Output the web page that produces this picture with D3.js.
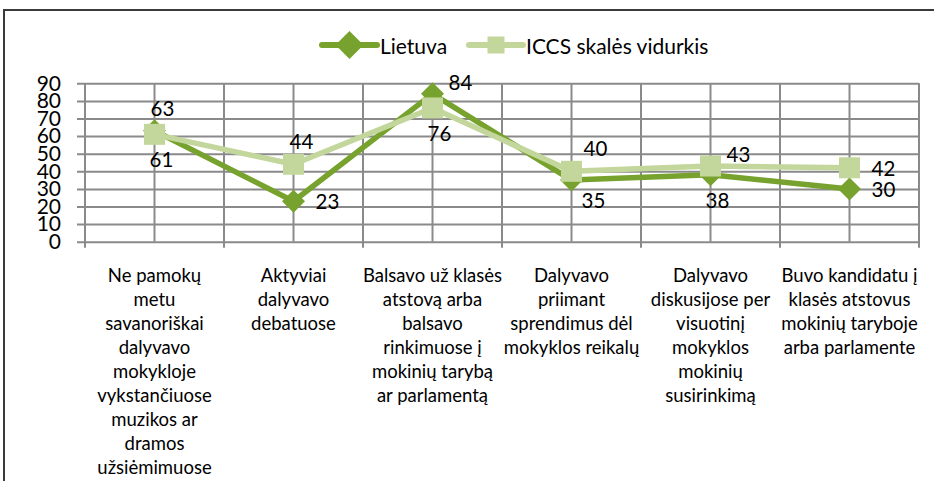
<!DOCTYPE html>
<html>
<head>
<meta charset="utf-8">
<script src="https://cdn.jsdelivr.net/npm/d3@7"></script>
<style>
  html, body { margin: 0; padding: 0; background: #fff; }
  svg { display: block; }
</style>
</head>
<body>
<div id="chart"></div>
<script>
// Data
const categories = [
  "Ne pamokų\nmetu\nsavanoriškai\ndalyvavo\nmokykloje\nvykstančiuose\nmuzikos ar\ndramos\nužsiėmimuose",
  "Aktyviai\ndalyvavo\ndebatuose",
  "Balsavo už klasės\natstovą arba\nbalsavo\nrinkimuose į\nmokinių tarybą\nar parlamentą",
  "Dalyvavo\npriimant\nsprendimus dėl\nmokyklos reikalų",
  "Dalyvavo\ndiskusijose per\nvisuotinį\nmokyklos\nmokinių\nsusirinkimą",
  "Buvo kandidatu į\nklasės atstovus\nmokinių taryboje\narba parlamente"
];
const lietuva = [63, 23, 84, 35, 38, 30];
const iccs = [61, 44, 76, 40, 43, 42];
const yTicks = [0, 10, 20, 30, 40, 50, 60, 70, 80, 90];
const seriesNames = ["Lietuva", "ICCS skalės vidurkis"];

// where each data label sits relative to its point
const lietuvaLabelPos = ["above", "right", "upright", "belowRight", "below", "right"];
const iccsLabelPos = ["below", "above", "below", "aboveRight", "upright", "right"];

const W = 934, H = 481;
const FONT = "Lato, 'Open Sans', sans-serif";
const darkGreen = "#77a22e";
const lightGreen = "#c3d69b";
const gridColor = "#8a8a8a";

const plot = { left: 85, right: 919, top: 83.3, bottom: 241.7 };

const svg = d3.select("#chart").append("svg")
  .attr("width", W)
  .attr("height", H)
  .style("font-family", FONT);

// outer frame
svg.append("rect")
  .attr("x", 4).attr("y", 10)
  .attr("width", W).attr("height", H)
  .attr("fill", "none")
  .attr("stroke", "#3a3a3a")
  .attr("stroke-width", 2);

const x = d3.scaleBand()
  .domain(d3.range(categories.length))
  .range([plot.left, plot.right])
  .padding(0);
const cx = i => x(i) + x.bandwidth() / 2;

const y = d3.scaleLinear()
  .domain([0, 90])
  .range([plot.bottom, plot.top]);

// horizontal grid + y labels
const yAxis = svg.append("g")
  .attr("transform", `translate(${plot.right},0)`)
  .call(d3.axisLeft(y)
    .tickValues(yTicks)
    .tickSize(plot.right - plot.left + 8)
    .tickPadding(16)
    .tickFormat(d3.format("d")));
yAxis.select(".domain").remove();
yAxis.selectAll(".tick line")
  .attr("stroke", gridColor)
  .attr("stroke-width", 2);
yAxis.selectAll(".tick text")
  .attr("font-family", FONT)
  .attr("font-size", "21px")
  .attr("fill", "#000");

// vertical grid: category boundaries and centres
const boundaries = d3.range(categories.length + 1).map(i =>
  i < categories.length ? x(i) : x(i - 1) + x.bandwidth());
svg.append("g").selectAll("line")
  .data(boundaries)
  .join("line")
  .attr("x1", d => d).attr("x2", d => d)
  .attr("y1", plot.top)
  .attr("y2", plot.bottom + 6)
  .attr("stroke", gridColor)
  .attr("stroke-width", 2);
svg.append("g").selectAll("line")
  .data(d3.range(categories.length))
  .join("line")
  .attr("x1", d => cx(d)).attr("x2", d => cx(d))
  .attr("y1", plot.top)
  .attr("y2", plot.bottom)
  .attr("stroke", gridColor)
  .attr("stroke-width", 2);

// category labels
const catG = svg.append("g")
  .attr("font-size", "18.5px")
  .attr("fill", "#000")
  .attr("text-anchor", "middle");
categories.forEach((c, i) => {
  const t = catG.append("text")
    .attr("x", cx(i))
    .attr("y", 275)
    .attr("dominant-baseline", "central");
  c.split("\n").forEach((line, k) => {
    t.append("tspan")
      .attr("x", cx(i))
      .attr("dy", k === 0 ? 0 : 24)
      .text(line);
  });
});

const line = d3.line()
  .x((d, i) => cx(i))
  .y(d => y(d));

const diamond = s => `M0,${-s}L${s},0L0,${s}L${-s},0Z`;

const labelOffset = {
  above: { dx: 8, dy: -23, anchor: "middle" },
  below: { dx: 7, dy: 25, anchor: "middle" },
  right: { dx: 22, dy: 0, anchor: "start" },
  upright: { dx: 16, dy: -12, anchor: "start" },
  aboveRight: { dx: 12, dy: -23, anchor: "start" },
  belowRight: { dx: 10, dy: 20, anchor: "start" }
};

function drawSeries(values, color, marker) {
  const g = svg.append("g");
  g.append("path")
    .datum(values)
    .attr("d", line)
    .attr("fill", "none")
    .attr("stroke", color)
    .attr("stroke-width", 5.5)
    .attr("stroke-linejoin", "round");
  if (marker === "diamond") {
    g.selectAll("path.m")
      .data(values)
      .join("path")
      .attr("class", "m")
      .attr("transform", (d, i) => `translate(${cx(i)},${y(d)})`)
      .attr("d", diamond(11.5))
      .attr("fill", color);
  } else {
    g.selectAll("rect.m")
      .data(values)
      .join("rect")
      .attr("class", "m")
      .attr("x", (d, i) => cx(i) - 10.5)
      .attr("y", d => y(d) - 10.5)
      .attr("width", 21)
      .attr("height", 21)
      .attr("fill", color);
  }
  return g;
}

function drawLabels(values, labelPos) {
  svg.append("g").selectAll("text")
    .data(values)
    .join("text")
    .attr("x", (d, i) => cx(i) + labelOffset[labelPos[i]].dx)
    .attr("y", (d, i) => y(d) + labelOffset[labelPos[i]].dy)
    .attr("text-anchor", (d, i) => labelOffset[labelPos[i]].anchor)
    .attr("dominant-baseline", "central")
    .attr("font-size", "20.5px")
    .attr("fill", "#000")
    .text(d => d);
}

drawSeries(lietuva, darkGreen, "diamond");
drawSeries(iccs, lightGreen, "square");
drawLabels(lietuva, lietuvaLabelPos);
drawLabels(iccs, iccsLabelPos);

// legend
const legend = svg.append("g").attr("font-size", "21px");
const legendItems = [
  { name: seriesNames[0], color: darkGreen, marker: "diamond", x: 322, w: 55 },
  { name: seriesNames[1], color: lightGreen, marker: "square", x: 469, w: 54 }
];
legendItems.forEach(it => {
  const lg = legend.append("g").attr("transform", `translate(${it.x},45)`);
  lg.append("line")
    .attr("x1", 0).attr("x2", it.w)
    .attr("stroke", it.color)
    .attr("stroke-width", 6)
    .attr("stroke-linecap", "round");
  if (it.marker === "diamond") {
    lg.append("path")
      .attr("transform", `translate(${it.w / 2},0)`)
      .attr("d", diamond(14))
      .attr("fill", it.color);
  } else {
    lg.append("rect")
      .attr("x", it.w / 2 - 8.5).attr("y", -8.5)
      .attr("width", 17).attr("height", 17)
      .attr("fill", it.color);
  }
  lg.append("text")
    .attr("x", it.w + 3)
    .attr("dominant-baseline", "central")
    .attr("fill", "#000")
    .text(it.name);
});
</script>
</body>
</html>
